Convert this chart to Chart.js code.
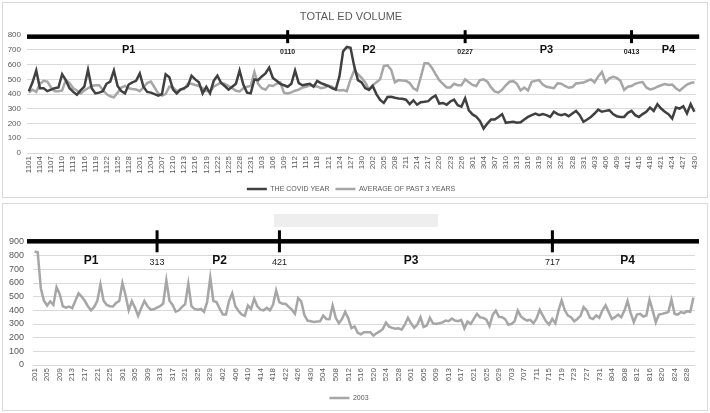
<!DOCTYPE html>
<html>
<head>
<meta charset="utf-8">
<script src="https://cdn.jsdelivr.net/npm/chart.js@4"></script>
<style>
  body { margin: 0; background: #fff; }
  .box { position: absolute; left: 2px; width: 706px; border: 1px solid #d9d9d9; box-sizing: border-box; }
  #top { top: 2px; height: 196px; }
  #bot { top: 203px; height: 208px; }
</style>
</head>
<body>
<div class="box" id="top"><canvas id="c1"></canvas></div>
<div class="box" id="bot"><canvas id="c2"></canvas></div>
<script>
// top chart: Nov 1 - Apr 30, daily
const topMonths = [11, 12, 1, 2, 3, 4];
const topMonthDays = [30, 31, 31, 28, 31, 30];
const covidYear = [
  420, 480, 560, 440, 440, 420, 430, 440, 445, 535,
  495, 440, 415, 395, 425, 450, 565, 440, 405, 410,
  420, 470, 485, 560, 455, 420, 405, 465, 480, 490,
  540, 450, 415, 410, 400, 390, 400, 535, 515, 430,
  405, 430, 440, 455, 525, 500, 480, 405, 450, 405,
  490, 525, 475, 455, 430, 450, 470, 560, 465, 410,
  405, 500, 495, 520, 540, 580, 510, 490, 470, 460,
  450, 470, 560, 475, 460, 465, 470, 450, 490, 475,
  465, 455, 440, 430, 520, 690, 720, 715, 590, 495,
  480, 440, 430, 455, 400, 360, 340, 380, 382, 375,
  370, 368, 362, 332, 358, 328, 345, 348, 352, 375,
  390, 336, 340, 328, 350, 362, 325, 315, 372, 290,
  262, 246, 218, 166, 200, 227, 227, 245, 264, 205,
  209, 212, 205, 209, 227, 245, 257, 268, 257, 264,
  257, 245, 280, 264, 257, 264, 250, 268, 286, 257,
  212, 227, 245, 268, 295, 280, 286, 291, 264, 250,
  245, 245, 273, 286, 257, 245, 264, 280, 309, 286,
  332, 302, 280, 264, 234, 309, 302, 318, 268, 332, 280
];
const past3Avg = [
  410, 430, 415, 470, 490, 485, 445, 420, 420, 425,
  495, 475, 440, 425, 405, 425, 440, 455, 460, 460,
  430, 400, 385, 378, 410, 445, 455, 440, 435, 432,
  420, 445, 475, 485, 445, 405, 390, 400, 450, 445,
  420, 430, 435, 470, 470, 462, 455, 440, 420, 418,
  450, 465, 478, 470, 455, 440, 423, 418, 440, 450,
  455, 550, 470, 440, 430, 460, 455, 470, 480, 410,
  405, 412, 423, 430, 445, 450, 460, 455, 452, 440,
  445, 458, 450, 432, 425, 428, 420, 500, 560, 535,
  510, 480, 430, 460, 480, 500, 590, 595, 565, 480,
  495, 492, 490, 475, 440, 425, 515, 610, 610, 580,
  535, 495, 470, 445, 445, 470, 460, 460, 500, 480,
  462, 455, 495, 500, 485, 445, 418, 410, 430, 460,
  484, 488, 470, 425, 445, 425, 484, 490, 495, 465,
  450, 445, 440, 473, 470, 455, 443, 448, 472, 475,
  478, 490, 500, 480, 520, 550, 480, 507, 518, 510,
  490, 428, 450, 455, 470, 478, 482, 445, 432, 438,
  450, 460, 468, 462, 465, 440, 423, 445, 465, 475, 480
];
const topPhaseAt = ['110', '227', '413'];
const topPhaseText = ['0110', '0227', '0413'];
const topPhaseNames = ['P1', 'P2', 'P3', 'P4'];
const topPhaseNameAt = ['1128', '201', '321', '423'];

// bottom chart: Feb 1 - Aug 30, 2003
const botMonths = [2, 3, 4, 5, 6, 7, 8];
const botMonthDays = [28, 31, 30, 31, 30, 31, 30];
const year2003 = [
  830, 825, 560, 470, 435, 465, 440, 570, 520, 430,
  420, 428, 415, 470, 525, 500, 470, 430, 400, 425,
  470, 590, 470, 440, 430, 428, 455, 468, 600, 510,
  400, 468, 420, 360, 415, 468, 430, 405, 408, 420,
  430, 450, 620, 470, 440, 390, 400, 425, 445, 595,
  430, 410, 405, 410, 390, 460, 640, 468, 460, 412,
  370, 370, 470, 525, 430, 395, 370, 360, 435, 410,
  485, 430, 405, 400, 418, 400, 440, 545, 460, 448,
  448, 425, 405, 375, 490, 465, 365, 325, 320, 315,
  318, 320, 362, 337, 335, 435, 345, 305, 337, 390,
  340, 270, 282, 235, 225, 240, 240, 240, 215, 232,
  246, 264, 310, 281, 272, 265, 268, 258, 295, 345,
  305, 272, 296, 350, 278, 288, 345, 305, 300, 305,
  312, 325, 320, 340, 325, 320, 330, 268, 318, 300,
  337, 374, 348, 345, 332, 285, 365, 398, 352, 350,
  335, 296, 300, 320, 398, 356, 337, 325, 330, 305,
  340, 404, 362, 320, 296, 337, 305, 400, 473, 400,
  362, 350, 320, 337, 360, 424, 400, 345, 337, 362,
  345, 400, 436, 387, 337, 350, 369, 350, 398, 468,
  380, 313, 369, 374, 355, 362, 478, 400, 313, 369,
  374, 380, 387, 478, 374, 369, 387, 380, 394, 390, 493
];
const botPhaseAt = ['313', '421', '717'];
const botPhaseText = ['313', '421', '717'];
const botPhaseNames = ['P1', 'P2', 'P3', 'P4'];
const botPhaseNameAt = ['219', '401', '601', '809'];

function makeLabels(months, days) {
  const out = [];
  months.forEach((m, k) => {
    for (let d = 1; d <= days[k]; d++) out.push(m + String(d).padStart(2, '0'));
  });
  return out;
}
const topLabels = makeLabels(topMonths, topMonthDays);
const botLabels = makeLabels(botMonths, botMonthDays);

const FONT = '"Liberation Sans", Arial, sans-serif';
const TXT = '#595959';

// black period bar with dividers and P1..P4 names
const phasePlugin = {
  id: 'phases',
  afterDraw(chart, args, o) {
    if (!o.marks) return;
    const {ctx, chartArea: a, scales: {x, y}} = chart;
    const labels = chart.data.labels;
    const yb = y.getPixelForValue(o.level);
    ctx.save();
    if (o.blank) {
      ctx.fillStyle = '#eeeeee';
      ctx.fillRect(o.blank[0], o.blank[1], o.blank[2], o.blank[3]);
    }
    ctx.fillStyle = '#000';
    ctx.fillRect(a.left - o.extL, yb - o.thick / 2, a.right - a.left + o.extL + o.extR, o.thick);
    ctx.textAlign = 'center';
    ctx.textBaseline = 'middle';
    o.marks.forEach((m, k) => {
      const px = x.getPixelForValue(labels.indexOf(m)) + o.shift;
      ctx.fillStyle = '#000';
      ctx.fillRect(px - 1.5, yb - o.up, 3, o.up + o.down);
      ctx.fillStyle = '#222';
      ctx.font = o.markFont;
      ctx.fillText(o.markText[k], px, yb + o.markDy);
    });
    ctx.font = o.nameFont;
    ctx.fillStyle = '#111';
    o.names.forEach((n, k) => {
      const px = x.getPixelForValue(labels.indexOf(o.nameAt[k]));
      ctx.fillText(n, px, yb + o.nameDy);
    });
    ctx.restore();
  }
};

function xAxis(labels, every, h) {
  return {
    offset: true,
    grid: { display: false, drawTicks: false },
    border: { display: false },
    ticks: {
      autoSkip: false, minRotation: 90, maxRotation: 90, padding: 3,
      color: TXT, font: { family: FONT, size: 8 },
      callback: (v, i) => (i % every === 0 ? labels[i] : '')
    },
    afterFit: s => { s.height = h; }
  };
}
function yAxis(max, w, pad, fs) {
  return {
    min: 0, max: max,
    grid: { color: '#d9d9d9', drawTicks: false },
    border: { display: false },
    ticks: { stepSize: 100, autoSkip: false, padding: pad, color: TXT, font: { family: FONT, size: fs } },
    afterFit: s => { s.width = w; }
  };
}
function legendOpts() {
  return {
    position: 'bottom',
    labels: {
      usePointStyle: true, pointStyle: 'line', pointStyleWidth: 20,
      padding: 6, color: TXT, font: { family: FONT, size: 7 }
    }
  };
}

new Chart(document.getElementById('c1'), {
  type: 'line',
  data: {
    labels: topLabels,
    datasets: [
      { label: 'THE COVID YEAR', data: covidYear, borderColor: '#404040', backgroundColor: '#404040',
        borderWidth: 2.5, pointRadius: 0, tension: 0 },
      { label: 'AVERAGE OF PAST 3 YEARS', data: past3Avg, borderColor: '#a6a6a6', backgroundColor: '#a6a6a6',
        borderWidth: 2.5, pointRadius: 0, tension: 0 }
    ]
  },
  options: {
    responsive: true, maintainAspectRatio: false, animation: false,
    layout: { padding: { left: 0, right: 8, top: 0, bottom: -5.5 } },
    scales: { x: xAxis(topLabels, 3, 26.5), y: yAxis(800, 24, 6, 8) },
    plugins: {
      title: { display: true, text: 'TOTAL ED VOLUME', color: TXT,
        font: { family: FONT, size: 11, weight: 'normal' }, padding: { top: 7, bottom: 12 } },
      legend: legendOpts(),
      tooltip: { enabled: false },
      phases: {
        level: 790, thick: 4.5, extL: 0, extR: 3, up: 6.5, down: 6.5, shift: 0,
        marks: topPhaseAt, markText: topPhaseText, markFont: 'bold 7px ' + FONT, markDy: 15,
        names: topPhaseNames, nameAt: topPhaseNameAt, nameFont: 'bold 11px ' + FONT, nameDy: 13
      }
    }
  },
  plugins: [phasePlugin]
});

new Chart(document.getElementById('c2'), {
  type: 'line',
  data: {
    labels: botLabels,
    datasets: [
      { label: '2003', data: year2003, borderColor: '#a6a6a6', backgroundColor: '#a6a6a6',
        borderWidth: 2.5, pointRadius: 0, tension: 0 }
    ]
  },
  options: {
    responsive: true, maintainAspectRatio: false, animation: false,
    layout: { padding: { left: 0, right: 12, top: 38, bottom: -1.5 } },
    scales: { x: xAxis(botLabels, 4, 23.5), y: yAxis(900, 30, 9, 9) },
    plugins: {
      legend: legendOpts(),
      tooltip: { enabled: false },
      phases: {
        level: 905, thick: 4.5, extL: 6, extR: 4, up: 11, down: 11, shift: -3,
        marks: botPhaseAt, markText: botPhaseText, markFont: '9px ' + FONT, markDy: 21,
        names: botPhaseNames, nameAt: botPhaseNameAt, nameFont: 'bold 12px ' + FONT, nameDy: 19,
        blank: [271, 10, 164, 13]
      }
    }
  },
  plugins: [phasePlugin]
});
</script>
</body>
</html>
